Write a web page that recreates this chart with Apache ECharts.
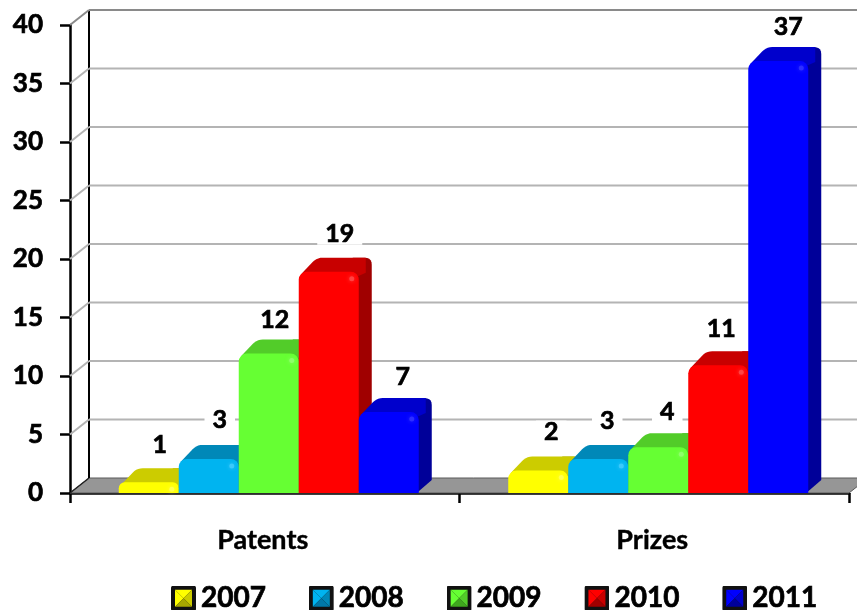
<!DOCTYPE html>
<html>
<head>
<meta charset="utf-8">
<style>html,body{margin:0;padding:0;background:#fff}#c{width:857px;height:610px}</style>
<script src="https://cdn.jsdelivr.net/npm/echarts@6/dist/echarts.min.js"></script>
</head>
<body>
<div id="c"></div>
<script>
var categories = ['Patents', 'Prizes'];
var years = ['2007', '2008', '2009', '2010', '2011'];
var v2007 = [1, 2];
var v2008 = [3, 3];
var v2009 = [12, 4];
var v2010 = [19, 11];
var v2011 = [7, 37];
var yTicks = [0, 5, 10, 15, 20, 25, 30, 35, 40];

var seriesValues = [v2007, v2008, v2009, v2010, v2011];
var faces = [
  { front: '#FFFF00', top: '#CCCC00', side: '#A8A800', glow: '#FFFF66' },
  { front: '#00B4F0', top: '#0088B8', side: '#0078A8', glow: '#4CD0FF' },
  { front: '#66FF33', top: '#52CC29', side: '#3FA81E', glow: '#99FF77' },
  { front: '#FF0000', top: '#C80000', side: '#A00000', glow: '#FF5555' },
  { front: '#0000FF', top: '#0000CC', side: '#000099', glow: '#3A3AFF' }
];
// label nudges (style only), per series then per category
var nudgeX = [[1, 3], [1, -1], [-4, -1], [1, -7], [4, 0]];
var nudgeY = [[-1, -3], [-3, -2], [2, 1], [-2, 0], [1, 2]];

var BAR_W = 60, DX = 15, DY = 13, WALL_DX = 19, WALL_DY = 15, GROUP_SHIFT = 146;

function rounded(pts, radii) {
  var out = [], n = pts.length;
  for (var i = 0; i < n; i++) {
    var p = pts[i], r = radii[i];
    if (!r) { out.push(p); continue; }
    var a = pts[(i + n - 1) % n], b = pts[(i + 1) % n];
    var la = Math.hypot(a[0] - p[0], a[1] - p[1]), lb = Math.hypot(b[0] - p[0], b[1] - p[1]);
    var s = [p[0] + (a[0] - p[0]) * r / la, p[1] + (a[1] - p[1]) * r / la];
    var e = [p[0] + (b[0] - p[0]) * r / lb, p[1] + (b[1] - p[1]) * r / lb];
    for (var t = 0; t <= 1.001; t += 0.2) {
      var u = 1 - t;
      out.push([u * u * s[0] + 2 * u * t * p[0] + t * t * e[0], u * u * s[1] + 2 * u * t * p[1] + t * t * e[1]]);
    }
  }
  return out;
}

function wallItem(params, api) {
  var v = api.value(0);
  var rect = params.coordSys;
  var y = api.coord([0, v])[1];
  var left = rect.x, right = rect.x + rect.width;
  var color = v === 40 ? '#8a8a8a' : '#b4b4b4';
  var kids = [];
  if (v === 0) {
    kids.push({ type: 'polygon', shape: { points: [[left, y], [left + WALL_DX, y - WALL_DY], [right + WALL_DX, y - WALL_DY], [right, y]] },
      style: { fill: '#969696', stroke: '#5a5a5a', lineWidth: 1 } });
    kids.push({ type: 'line', shape: { x1: left, y1: y, x2: left + WALL_DX, y2: y - WALL_DY }, style: { stroke: '#222', lineWidth: 1.5 } });
    kids.push({ type: 'line', shape: { x1: left + WALL_DX, y1: y - WALL_DY, x2: left + WALL_DX, y2: rect.y - WALL_DY }, style: { stroke: '#000', lineWidth: 2 } });
  } else {
    kids.push({ type: 'line', shape: { x1: left, y1: y, x2: left + WALL_DX, y2: y - WALL_DY }, style: { stroke: color, lineWidth: 2 } });
    kids.push({ type: 'line', shape: { x1: left + WALL_DX, y1: y - WALL_DY, x2: right + WALL_DX, y2: y - WALL_DY }, style: { stroke: color, lineWidth: 2 } });
  }
  return { type: 'group', children: kids };
}

function barRenderer(si) {
  return function (params, api) {
    var cat = api.value(0), val = api.value(1);
    var top = api.coord([cat, val]);
    var base = api.coord([cat, 0]);
    var x = top[0] - GROUP_SHIFT + si * BAR_W, y = top[1], b = base[1];
    var f = faces[si], r = Math.min(8, (b - y) / 2);
    var w = BAR_W - 2;
    var sidePts = rounded([[x + w, b], [x + w + DX, b - DY], [x + w + DX, y - DY], [x + w - 4, y - DY], [x + w - 4, y + 6]], [0, 0, 7, 0, 0]);
    var topPts = rounded([[x, y + 6], [x + DX + 3, y - DY], [x + w + DX - 6, y - DY], [x + w + DX - 6, y + 2], [x + w, y + 6]], [6, 6, 0, 0, 0]);
    return {
      type: 'group',
      children: [
        { type: 'polygon', shape: { points: sidePts }, style: { fill: f.side } },
        { type: 'polygon', shape: { points: topPts }, style: { fill: f.top } },
        { type: 'rect', shape: { x: x, y: y + 1, width: BAR_W, height: b - y - 1, r: [r, r, 0, 0] }, style: { fill: f.front } },
        { type: 'circle', shape: { cx: x + BAR_W - 7, cy: y + 8, r: 2.5 }, style: { fill: f.glow, opacity: 0.7, shadowBlur: 4, shadowColor: f.glow } },
        { type: 'text', z2: 50, x: x + 40 + nudgeX[si][cat], y: y - 35 + nudgeY[si][cat],
          style: { text: String(val), font: 'bold 25px Lato', fill: '#000', stroke: '#000', lineWidth: 0.7, align: 'center', verticalAlign: 'middle',
            backgroundColor: '#fff', lineHeight: 22, padding: [0, 8] } }
      ]
    };
  };
}

function legendIcon(f) {
  var svg = "<svg xmlns='http://www.w3.org/2000/svg' width='25' height='25'>" +
    "<rect x='0' y='0' width='25' height='25' rx='2' fill='#111'/>" +
    "<polygon points='4,4 21,4 12.5,12.5' fill='" + f.front + "'/>" +
    "<polygon points='4,4 4,21 12.5,12.5' fill='" + f.front + "'/>" +
    "<polygon points='21,4 21,21 12.5,12.5' fill='" + f.top + "'/>" +
    "<polygon points='4,21 21,21 12.5,12.5' fill='" + f.side + "'/></svg>";
  return 'image://data:image/svg+xml;charset=utf-8,' + encodeURIComponent(svg);
}

var series = [{
  type: 'custom', name: 'walls', silent: true, z: 1, clip: false,
  coordinateSystem: 'cartesian2d',
  data: yTicks.map(function (t) { return [t]; }),
  encode: { y: 0 },
  renderItem: wallItem
}];
years.forEach(function (yr, si) {
  series.push({
    type: 'custom', name: yr, z: 2 + si, clip: false,
    coordinateSystem: 'cartesian2d',
    itemStyle: { color: faces[si].front },
    data: seriesValues[si].map(function (v, i) { return [i, v]; }),
    encode: { x: 0, y: 1 },
    renderItem: barRenderer(si)
  });
});

var chart = echarts.init(document.getElementById('c'), null, { renderer: 'canvas' });
chart.setOption({
  animation: false,
  backgroundColor: '#fff',
  textStyle: { fontFamily: 'Lato' },
  grid: { left: 70, right: 8, top: 25, bottom: 117, containLabel: false },
  legend: {
    left: 166, top: 579, itemWidth: 25, itemHeight: 25, itemGap: 42.5,
    orient: 'horizontal', selectedMode: false,
    textStyle: { fontFamily: 'Lato', fontWeight: 'bold', fontSize: 28, color: '#000', textBorderColor: '#000', textBorderWidth: 0.7 },
    data: years.map(function (y, i) { return { name: y, icon: legendIcon(faces[i]) }; })
  },
  xAxis: {
    type: 'category', data: categories, boundaryGap: true,
    axisLine: { show: true, lineStyle: { color: '#000', width: 2.5 } },
    axisTick: { show: true, length: 10, lineStyle: { color: '#000', width: 2.5 } },
    axisLabel: { margin: 34, color: '#000', fontFamily: 'Lato', fontWeight: 'bold', fontSize: 27, padding: [0, 4, 0, 0], textBorderColor: '#000', textBorderWidth: 0.4 },
    splitLine: { show: false }
  },
  yAxis: {
    type: 'value', min: 0, max: 40, interval: 5,
    axisLine: { show: true, lineStyle: { color: '#000', width: 2.5 } },
    axisTick: { show: true, length: 10, lineStyle: { color: '#000', width: 2.5 } },
    axisLabel: { margin: 27, color: '#000', fontFamily: 'Lato', fontWeight: 'bold', fontSize: 26, padding: [9, 0, 0, 0], textBorderColor: '#000', textBorderWidth: 0.7 },
    splitLine: { show: false }
  },
  series: series
});
</script>
</body>
</html>
